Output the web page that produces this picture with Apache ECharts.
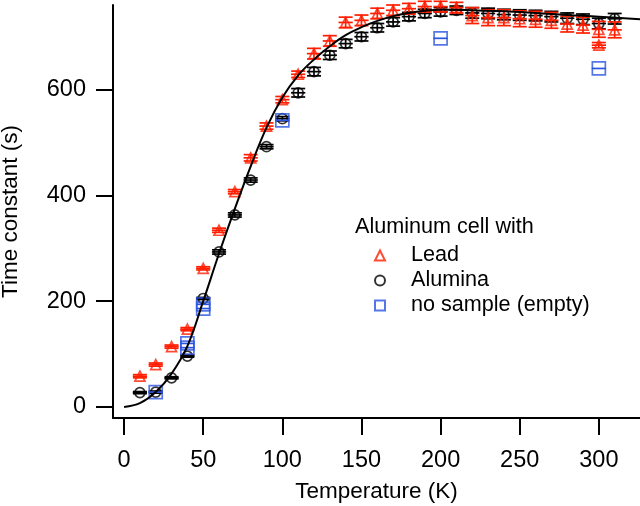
<!DOCTYPE html>
<html>
<head>
<meta charset="utf-8">
<script src="https://cdn.jsdelivr.net/npm/echarts@6/dist/echarts.min.js"></script>
<style>
  html, body { margin: 0; padding: 0; background: #fff; }
  #chart { width: 640px; height: 506px; }
</style>
</head>
<body>
<div id="chart"></div>
<script>
// 数据：温度 (K) 与时间常数 (s)
var leadT = [10, 20, 30, 40, 50, 60, 70, 80, 90, 100, 110, 120, 130, 140, 150, 160, 170, 180, 190, 200, 210, 220, 230, 240, 250, 260, 270, 280, 290, 300, 300, 310];
var leadV = [58, 80, 114, 147, 262, 334, 407, 471, 531, 581, 629, 668, 692, 727, 731, 744, 750, 753, 757, 757, 755, 740, 736, 736, 734, 733, 731, 724, 722, 714, 684, 713];
var leadErr = [3, 3, 3, 3, 3, 4, 4, 6, 6, 6, 6, 10, 10, 10, 10, 10, 10, 10, 10, 10, 10, 15, 15, 15, 15, 15, 15, 15, 15, 15, 5, 15];

var aluT = [10, 20, 30, 40, 50, 60, 70, 80, 90, 100, 110, 120, 130, 140, 150, 160, 170, 180, 190, 200, 210, 220, 230, 240, 250, 260, 270, 280, 290, 300, 310];
var aluV = [27, 28, 55, 96, 205, 293, 363, 429, 492, 545, 594, 634, 665, 687, 700, 717, 728, 738, 744, 747, 750, 745, 744, 742, 741, 740, 738, 735, 733, 725, 734];
var aluErr = [2, 2, 2, 2, 2, 4, 4, 4, 4, 4, 8, 8, 8, 8, 8, 8, 8, 8, 8, 8, 8, 10, 10, 10, 10, 10, 10, 10, 10, 10, 10];

var emptyT = [20, 40, 40, 50, 50, 100, 200, 300];
var emptyV = [28, 112, 120, 186, 194, 542, 697, 640];
var emptyErr = [0, 0, 0, 0, 0, 0, 0, 0];

// 温度误差 (K)
var tempErr = 4.5;

// 拟合曲线
var fitT = [0, 10, 20, 30, 40, 50, 60, 70, 80, 90, 100, 110, 120, 130, 140, 150, 160, 170, 180, 190, 200, 210, 220, 240, 260, 280, 300, 326];
var fitV = [0, 7, 28, 63, 115, 200, 290, 375, 455, 528, 585, 627, 657, 682, 703, 718, 730, 739, 745, 749, 751, 751, 750, 748, 745, 741, 738, 733];

var xTicks = [0, 50, 100, 150, 200, 250, 300];
var yTicks = [0, 200, 400, 600];

var FONT = 'Liberation Sans, Arial, sans-serif';
var RED = '#ff1e00';
var BLUE = '#2a55e0';
var BLACK = '#000';

function zip(xs, ys, es) {
  return xs.map(function (x, i) { return es ? [x, ys[i], es[i]] : [x, ys[i]]; });
}

// 误差棒：水平线 ± tempErr，竖线带帽
function errRender(color) {
  return function (params, api) {
    var x = api.value(0), y = api.value(1), e = api.value(2);
    var l = api.coord([x - tempErr, y]);
    var r = api.coord([x + tempErr, y]);
    var style = { stroke: color, lineWidth: 1.7 };
    var children = [{ type: 'line', shape: { x1: l[0], y1: l[1], x2: r[0], y2: r[1] }, style: style }];
    if (e > 0) {
      var t = api.coord([x, y + e]);
      var b = api.coord([x, y - e]);
      var half = 7;
      children.push({ type: 'line', shape: { x1: t[0], y1: t[1], x2: b[0], y2: b[1] }, style: style });
      children.push({ type: 'line', shape: { x1: t[0] - half, y1: t[1], x2: t[0] + half, y2: t[1] }, style: style });
      children.push({ type: 'line', shape: { x1: b[0] - half, y1: b[1], x2: b[0] + half, y2: b[1] }, style: style });
    }
    return { type: 'group', children: children };
  };
}

var chart = echarts.init(document.getElementById('chart'));

chart.setOption({
  animation: false,
  textStyle: { fontFamily: FONT },
  title: {
    text: 'Aluminum cell with',
    left: 350,
    top: 211,
    textStyle: { fontFamily: FONT, fontSize: 21.6, fontWeight: 'normal', color: BLACK }
  },
  legend: {
    data: ['Lead', 'Alumina', 'no sample (empty)'],
    orient: 'vertical',
    left: 369,
    top: 238,
    padding: 5,
    itemWidth: 10,
    itemHeight: 10,
    itemGap: 0,
    textStyle: { fontFamily: FONT, fontSize: 21.6, color: BLACK, lineHeight: 25, padding: [0, 0, 0, 21] }
  },
  grid: { left: 113, right: 0, top: 5, bottom: 88, outerBoundsMode: 'none' },
  xAxis: {
    type: 'value',
    min: -7,
    max: 326,
    name: 'Temperature (K)',
    nameLocation: 'middle',
    nameGap: 62,
    nameTextStyle: { fontFamily: FONT, fontSize: 22.5, color: BLACK },
    axisLine: { onZero: false, lineStyle: { color: BLACK, width: 2 } },
    axisTick: { customValues: xTicks, length: 17, lineStyle: { color: BLACK, width: 2 } },
    axisLabel: { customValues: xTicks, fontFamily: FONT, fontSize: 23.5, color: BLACK, margin: 31 },
    splitLine: { show: false }
  },
  yAxis: {
    type: 'value',
    min: -21,
    max: 760,
    name: 'Time constant (s)',
    nameLocation: 'middle',
    nameGap: 91,
    nameRotate: 90,
    nameTextStyle: { fontFamily: FONT, fontSize: 22.5, color: BLACK },
    axisLine: { onZero: false, lineStyle: { color: BLACK, width: 2 } },
    axisTick: { customValues: yTicks, length: 17, lineStyle: { color: BLACK, width: 2 } },
    axisLabel: { customValues: yTicks, fontFamily: FONT, fontSize: 23.5, color: BLACK, margin: 27 },
    splitLine: { show: false }
  },
  series: [
    {
      name: 'Alumina err', type: 'custom', renderItem: errRender(BLACK),
      data: zip(aluT, aluV, aluErr), encode: { x: 0, y: 1 }, z: 2
    },
    {
      name: 'Alumina', type: 'scatter', symbol: 'circle', symbolSize: 10,
      data: zip(aluT, aluV), z: 3,
      itemStyle: { color: 'rgba(0,0,0,0)', borderColor: BLACK, borderWidth: 1.7 }
    },
    {
      name: 'Lead err', type: 'custom', renderItem: errRender(RED),
      data: zip(leadT, leadV, leadErr), encode: { x: 0, y: 1 }, z: 4
    },
    {
      name: 'Lead', type: 'scatter', symbol: 'triangle', symbolSize: 10,
      data: zip(leadT, leadV), z: 5,
      itemStyle: { color: 'rgba(0,0,0,0)', borderColor: RED, borderWidth: 1.7 }
    },
    {
      name: 'no sample (empty) err', type: 'custom', renderItem: errRender(BLUE),
      data: zip(emptyT, emptyV, emptyErr), encode: { x: 0, y: 1 }, z: 6
    },
    {
      name: 'no sample (empty)', type: 'scatter', symbol: 'rect', symbolSize: 13,
      data: zip(emptyT, emptyV), z: 7,
      itemStyle: { color: 'rgba(0,0,0,0)', borderColor: BLUE, borderWidth: 1.7 }
    },
    {
      name: 'fit', type: 'line', smooth: 0.4, showSymbol: false,
      data: zip(fitT, fitV), z: 8,
      lineStyle: { color: BLACK, width: 2 }
    }
  ]
});
</script>
</body>
</html>
